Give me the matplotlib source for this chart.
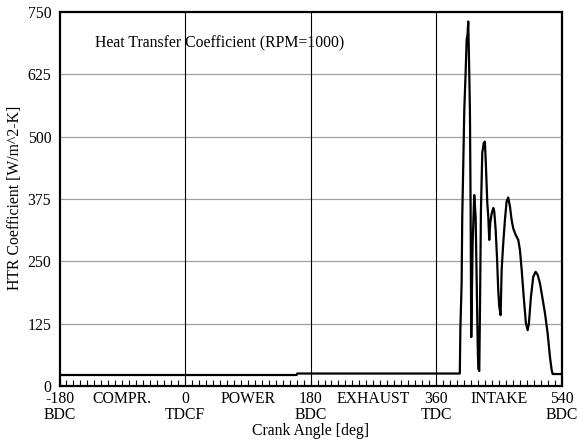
import numpy as np
import matplotlib
matplotlib.use("Agg")
import matplotlib.pyplot as plt
from matplotlib.ticker import MultipleLocator

plt.rcParams['font.family'] = ['Liberation Serif', 'DejaVu Serif']
fs = 11.3

# crank angle [deg] and heat transfer coefficient [W/m^2-K]
angle = [-180, 160, 161, 394, 394.8, 396.6, 397.5, 399, 400.4, 402.3, 403.8, 405,
         406.1, 407.1, 408.5, 409.5, 410.4, 412.4, 414.7, 416.7, 418.1, 419.6,
         420.5, 421.9, 422.9, 424.3, 426.2, 428.2, 430, 431.5, 433.4, 434.8,
         436.2, 437.6, 439.6, 442, 443.4, 445.4, 447.3, 449.1, 450.5, 452.5,
         454, 456.3, 458.7, 461.1, 463.4, 465.9, 468.3, 470.6, 474.1, 477.8,
         480.2, 482.7, 486, 488.8, 491.3, 493.1, 496, 499.3, 502.7, 505.6,
         508.9, 512.2, 516.1, 519.9, 523.2, 525.7, 527.1, 540]
htc = [22, 22, 25, 25, 115, 206, 339, 447, 553, 627, 694, 704,
       731, 660, 553, 353, 98, 287, 383, 339, 219, 86,
       35, 30, 152, 353, 467, 487, 490, 440, 367, 340,
       293, 327, 345, 357, 350, 313, 259, 192, 160, 142,
       233, 287, 333, 370, 378, 360, 333, 316, 303, 293,
       273, 233, 172, 126, 112, 126, 179, 219, 229, 223,
       206, 179, 146, 106, 59, 32, 24, 24]

xticks = [-180, -90, 0, 90, 180, 270, 360, 450, 540]
xlabels = ['-180\nBDC', 'COMPR.\n', '0\nTDCF', 'POWER\n', '180\nBDC',
           'EXHAUST\n', '360\nTDC', 'INTAKE\n', '540\nBDC']
yticks = [0, 125, 250, 375, 500, 625, 750]

fig = plt.figure(figsize=(5.79, 4.43), dpi=100)
ax = fig.add_axes([0.1028, 0.1287, 0.8672, 0.8442])

for yv in yticks[1:-1]:
    ax.axhline(yv, color='#a0a0a0', lw=0.9, zorder=1)
for xv in [0, 180, 360]:
    ax.axvline(xv, color='black', lw=0.8, zorder=1)

ax.plot(angle, htc, color='black', lw=1.6, zorder=3)

ax.set_xlim(-180, 540)
ax.set_ylim(0, 750)
ax.set_xticks(xticks)
ax.set_xticklabels(xlabels, fontsize=fs, linespacing=1.05)
ax.xaxis.set_minor_locator(MultipleLocator(10))
ax.tick_params(axis='x', which='both', direction='in', length=4, width=0.8, pad=3.5)
ax.set_yticks(yticks)
ax.set_yticklabels([str(v) for v in yticks], fontsize=fs)
ax.tick_params(axis='y', length=0, pad=6)

for s in ax.spines.values():
    s.set_linewidth(1.6)

ax.text(-129, 688, 'Heat Transfer Coefficient (RPM=1000)', fontsize=fs, va='center')
ax.set_xlabel('Crank Angle [deg]', fontsize=fs, labelpad=0)
fig.text(15 / 579, 1 - 198 / 443, 'HTR Coefficient [W/m^2-K]', fontsize=fs,
         rotation=90, ha='center', va='center')

fig.savefig('out.png', dpi=100)
